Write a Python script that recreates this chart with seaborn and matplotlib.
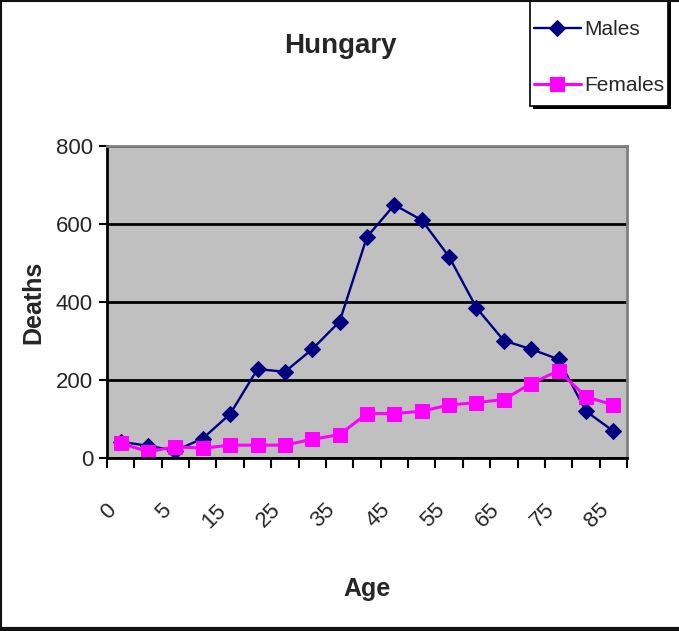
import matplotlib
matplotlib.use("Agg")
import matplotlib.pyplot as plt
import numpy as np
import pandas as pd
import seaborn as sns
from matplotlib.transforms import ScaledTranslation
from matplotlib.lines import Line2D
from matplotlib.patches import Rectangle

# age groups (0, 1-4, 5-9, ... 85+)
ages = ["0", "1", "5", "10", "15", "20", "25", "30", "35", "40", "45",
        "50", "55", "60", "65", "70", "75", "80", "85"]
males = [42, 31, 19, 50, 113, 228, 221, 279, 350, 567, 649, 610, 516,
         385, 301, 279, 253, 120, 69]
females = [38, 16, 29, 25, 33, 33, 33, 48, 60, 114, 114, 120, 136,
           142, 150, 191, 224, 157, 136]
yticks = [0, 200, 400, 600, 800]

sns.set_theme(style="white")
plt.rcParams['font.family'] = ['Liberation Sans Narrow', 'Liberation Sans', 'DejaVu Sans']

fig = plt.figure(figsize=(6.79, 6.31), dpi=100)
ax = fig.add_axes([107/679, 1-458/631, 520/679, 312/631])
ax.set_facecolor("#C0C0C0")

sns.lineplot(x=ages, y=males, ax=ax, color="#000080", linewidth=1.7,
             marker="D", markersize=7.8, markeredgecolor="#000080",
             sort=False, label="Males")
sns.lineplot(x=ages, y=females, ax=ax, color="#FF00FF", linewidth=2.2,
             marker="s", markersize=10, markeredgecolor="#FF00FF",
             sort=False, label="Females")

ax.set_xlim(-0.5, len(ages) - 0.5)
ax.set_ylim(0, 800)
ax.set_yticks(yticks)
ax.set_yticklabels([str(v) for v in yticks], fontsize=16)
ax.yaxis.grid(True, color="black", linewidth=2)
ax.xaxis.grid(False)

ax.set_xticks(range(len(ages)))
ax.set_xticklabels([a if i % 2 == 0 else "" for i, a in enumerate(ages)],
                   fontsize=16, rotation=45, ha="right", va="top")
shift = ScaledTranslation(-9/100, 0, fig.dpi_scale_trans)
for lab in ax.get_xticklabels():
    lab.set_transform(lab.get_transform() + shift)
ax.set_xticks(np.arange(-0.5, len(ages), 1), minor=True)
ax.tick_params(axis="x", which="major", length=0, pad=30)
ax.tick_params(axis="x", which="minor", length=7, width=1.5, color="black",
               direction="out", bottom=True)
ax.tick_params(axis="y", length=6, width=1.5, color="black", direction="out",
               left=True, pad=4)

for s in ["left", "bottom"]:
    ax.spines[s].set_color("black")
    ax.spines[s].set_linewidth(2)
for s in ["top", "right"]:
    ax.spines[s].set_color("#808080")
    ax.spines[s].set_linewidth(2)

ax.set_xlabel("Age", fontsize=18, weight="bold")
ax.xaxis.set_label_coords(0.5, -0.38)
ax.set_ylabel("Deaths", fontsize=18, weight="bold")
ax.yaxis.set_label_coords(-0.118, 0.5)

fig.text(340/679, 1-46/631, "Hungary", ha="center", va="center",
         fontsize=20, weight="bold")

# legend box drawn by hand (Excel style with a hard shadow)
fig.add_artist(Rectangle((533/679, 1-109/631), 138/679, 112/631,
                         transform=fig.transFigure, facecolor="black",
                         edgecolor="none", zorder=1))
fig.add_artist(Rectangle((530/679, 1-106/631), 138/679, 112/631,
                         transform=fig.transFigure, facecolor="white",
                         edgecolor="black", linewidth=1.2, zorder=2))

ax.legend_.remove()
h, l = ax.get_legend_handles_labels()
leg = fig.legend(h, l, loc="upper left", bbox_to_anchor=(534/679, 1-20/631),
                 fontsize=15, frameon=False,
                 handlelength=2.25, handletextpad=0.15,
                 labelspacing=1.78, borderpad=0, borderaxespad=0)
leg.set_zorder(5)

# outer chart frame
fig.add_artist(Line2D([1/679, 1/679], [0, 1], transform=fig.transFigure, color="#111111", linewidth=1.5))
fig.add_artist(Line2D([0, 1], [1-0.5/631, 1-0.5/631], transform=fig.transFigure, color="#111111", linewidth=1.5))
fig.add_artist(Line2D([0, 1], [2/631, 2/631], transform=fig.transFigure, color="#111111", linewidth=3))

fig.savefig("out.png", dpi=100)
